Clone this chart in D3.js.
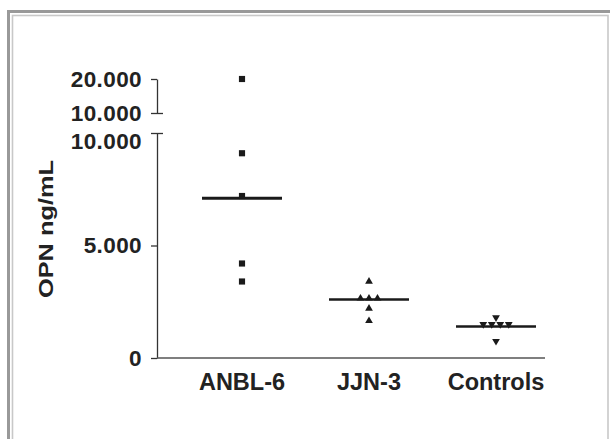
<!DOCTYPE html>
<html>
<head>
<meta charset="utf-8">
<script src="https://cdn.jsdelivr.net/npm/d3@7"></script>
<style>
  html, body { margin: 0; padding: 0; background: #fff; }
  text { font-family: "Liberation Sans", Arial, sans-serif; font-weight: bold; fill: #222; }
</style>
</head>
<body>
<div id="d3"></div>
<script>
'use strict';

// values (ng/mL)
var categories = ["ANBL-6", "JJN-3", "Controls"];
var anbl6 = [20000, 9100, 7200, 4200, 3400];
var jjn3 = [3400, 2650, 2650, 2650, 2200, 1650];
var controls = [1800, 1500, 1500, 1500, 1500, 750];
var medians = [7100, 2600, 1400];
var lowTicks = [0, 5000, 10000];
var highTicks = [10000, 20000];
var yTitle = "OPN ng/mL";

var W = 610, H = 439;

var svg = d3.select("#d3").append("svg")
  .attr("width", W)
  .attr("height", H);

// frame
svg.append("rect")
  .attr("x", 8.5).attr("y", 11.5)
  .attr("width", W).attr("height", H)
  .attr("fill", "none").attr("stroke", "#999").attr("stroke-width", 3);
svg.append("rect")
  .attr("x", 12.5).attr("y", 15.5)
  .attr("width", 595.5).attr("height", H)
  .attr("fill", "none").attr("stroke", "#c8c8c8").attr("stroke-width", 1.6);

var x = d3.scalePoint().domain(categories).range([242, 496]);

// broken axis: two linear pieces
var yLow = d3.scaleLinear().domain([0, 10000]).range([358, 133]);
var yHigh = d3.scaleLinear().domain([10000, 20000]).range([113, 79]);
function y(v) { return v > 10000 ? yHigh(v) : yLow(v); }

var fmt = d3.formatLocale({ decimal: ",", thousands: ".", grouping: [3], currency: ["", ""] }).format(",");

var axisX = 157;

function drawAxis(scale, ticks) {
  var g = svg.append("g")
    .attr("transform", "translate(" + axisX + ",0)")
    .call(d3.axisLeft(scale).tickValues(ticks).tickFormat(fmt).tickSize(6).tickPadding(9).tickSizeOuter(0));
  g.select(".domain").attr("stroke", "#333").attr("stroke-width", 1.3);
  g.selectAll(".tick line").attr("stroke", "#333").attr("stroke-width", 1.3);
  g.selectAll(".tick text")
    .attr("fill", "#222")
    .style("font-size", "22.5px")
    .style("font-family", "'Liberation Sans', Arial, sans-serif")
    .style("font-weight", "bold")
    .style("letter-spacing", "0.4px");
  return g;
}

var gLow = drawAxis(yLow, lowTicks);
var gHigh = drawAxis(yHigh, highTicks);

// the break ticks also stick out to the right
gLow.selectAll(".tick").filter(function(d) { return d === 10000; })
  .select("line").attr("x2", -6).attr("x1", 6);
gLow.selectAll(".tick").filter(function(d) { return d === 10000; })
  .select("text").attr("dy", "0.32em").attr("y", 8);
gHigh.selectAll(".tick").filter(function(d) { return d === 10000; })
  .select("line").attr("x2", -6).attr("x1", 6);

// x axis line
svg.append("line")
  .attr("x1", axisX).attr("x2", 545)
  .attr("y1", yLow(0)).attr("y2", yLow(0))
  .attr("stroke", "#555").attr("stroke-width", 1.4);

// category labels
svg.selectAll("text.cat")
  .data(categories)
  .enter().append("text")
  .attr("class", "cat")
  .attr("x", function(d) { return x(d); })
  .attr("y", 390)
  .attr("text-anchor", "middle")
  .style("font-size", "23.5px")
  .text(function(d) { return d; });

// y title
svg.append("text")
  .attr("transform", "translate(53,229) rotate(-90)")
  .attr("text-anchor", "middle")
  .attr("textLength", 138)
  .attr("lengthAdjust", "spacingAndGlyphs")
  .style("font-size", "21px")
  .text(yTitle);

// medians
svg.selectAll("line.median")
  .data(medians)
  .enter().append("line")
  .attr("class", "median")
  .attr("x1", function(d, i) { return x(categories[i]) - 40; })
  .attr("x2", function(d, i) { return x(categories[i]) + 40; })
  .attr("y1", function(d) { return y(d); })
  .attr("y2", function(d) { return y(d); })
  .attr("stroke", "#1a1a1a")
  .attr("stroke-width", function(d, i) { return i === 0 ? 3 : 2.6; });

// spread points that share a value side by side
function spread(values, cat) {
  var counts = {}, seen = {};
  values.forEach(function(v) { counts[v] = (counts[v] || 0) + 1; });
  return values.map(function(v) {
    var k = seen[v] = (seen[v] || 0) + 1;
    var off = (k - 1 - (counts[v] - 1) / 2) * 8.5;
    return { cat: cat, value: v, off: off };
  });
}

var sq = d3.symbol().type(d3.symbolSquare).size(38);
var tri = d3.symbol().type(d3.symbolTriangle).size(26);

var groups = [
  { pts: spread(anbl6, categories[0]), path: sq(), rot: 0 },
  { pts: spread(jjn3, categories[1]), path: tri(), rot: 0 },
  { pts: spread(controls, categories[2]), path: tri(), rot: 180 }
];

groups.forEach(function(g) {
  svg.append("g").selectAll("path")
    .data(g.pts)
    .enter().append("path")
    .attr("d", g.path)
    .attr("fill", "#1a1a1a")
    .attr("transform", function(d) {
      return "translate(" + (x(d.cat) + d.off) + "," + y(d.value) + ") rotate(" + g.rot + ")";
    });
});
</script>
</body>
</html>
